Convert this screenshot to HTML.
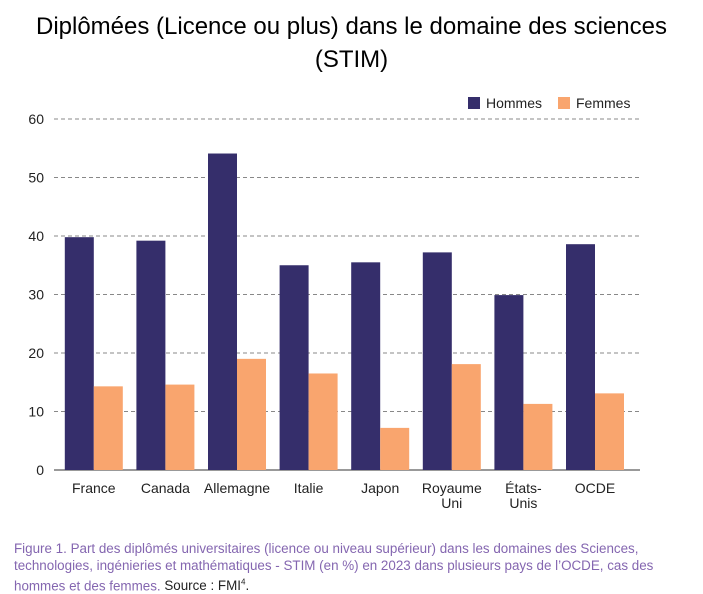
<!DOCTYPE html>
<html><head><meta charset="utf-8"><style>
body{margin:0;width:703px;height:592px;background:#fff;font-family:"Liberation Sans",sans-serif;overflow:hidden;position:relative}
#title{position:absolute;left:0;top:10px;width:703px;text-align:center;font-size:24px;line-height:33px;color:#000}
#cap{position:absolute;left:14px;top:540px;width:670px;font-size:13.4px;line-height:17px;color:#8466b0}
#cap span{color:#222}
</style></head><body>
<div id="title">Diplômées (Licence ou plus) dans le domaine des sciences<br>(STIM)</div>
<svg id="chart" width="703" height="540" style="position:absolute;left:0;top:0"></svg>
<div id="cap">Figure 1. Part des diplômés universitaires (licence ou niveau supérieur) dans les domaines des Sciences, technologies, ingénieries et mathématiques - STIM (en %) en 2023 dans plusieurs pays de l’OCDE, cas des hommes et des femmes. <span>Source : FMI<sup style="font-size:8px">4</sup>.</span></div>
<script>
const categories=[["France"],["Canada"],["Allemagne"],["Italie"],["Japon"],["Royaume","Uni"],["États-","Unis"],["OCDE"]];
const hommes=[39.8,39.2,54.1,35.0,35.5,37.2,29.9,38.6];
const femmes=[14.3,14.6,19.0,16.5,7.2,18.1,11.3,13.1];
const ticks=[0,10,20,30,40,50,60];
const NS="http://www.w3.org/2000/svg";
const svg=document.getElementById('chart');
const y0=470,y60=119,x0=58,step=71.6,bw=29;
const y=v=>y0-(v/60)*(y0-y60);
const cx=i=>x0+step*(i+0.5);
function mk(t,a){const e=document.createElementNS(NS,t);for(const k in a)e.setAttribute(k,a[k]);svg.appendChild(e);return e;}
ticks.forEach(t=>{
 if(t>0){const l=mk('line',{x1:54,x2:640,y1:y(t),y2:y(t),stroke:'#888','stroke-dasharray':'4,3','stroke-width':1});
 
 }
 const tx=mk('text',{x:44,y:y(t)+5,'text-anchor':'end','font-size':14,fill:'#222'});tx.textContent=t;
 
 
});
const ax=mk('line',{x1:54,x2:640,y1:y0,y2:y0,stroke:'#333','stroke-width':1});


categories.forEach((c,i)=>{
 const h=mk('rect',{x:cx(i)-bw,y:y(hommes[i]),width:bw,height:y0-y(hommes[i]),fill:'#352e6b'});
 
 
 const f=mk('rect',{x:cx(i),y:y(femmes[i]),width:bw,height:y0-y(femmes[i]),fill:'#f9a56e'});
 
 
 c.forEach((s,j)=>{const t=mk('text',{x:cx(i),y:493+j*15,'text-anchor':'middle','font-size':14,fill:'#222'});t.textContent=s;
 
 });
});
const lg=[['Hommes','#352e6b',468],['Femmes','#f9a56e',558]];
lg.forEach(([n,col,x])=>{
 const r=mk('rect',{x:x,y:97,width:12,height:12,fill:col});
 
 
 const t=mk('text',{x:x+18,y:108,'font-size':14,fill:'#222'});t.textContent=n;
 
 
});
</script>
</body></html>
